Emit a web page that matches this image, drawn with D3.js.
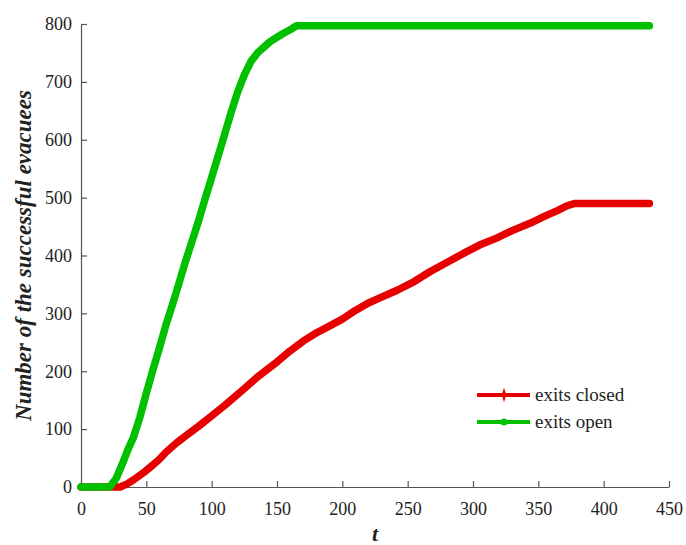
<!DOCTYPE html>
<html>
<head>
<meta charset="utf-8">
<script src="https://cdn.jsdelivr.net/npm/d3@7"></script>
<style>
  body { margin: 0; background: #fff; }
  svg text { font-family: "Liberation Serif", "Times New Roman", "DejaVu Serif", serif !important; fill: #222; }
</style>
</head>
<body>
<div id="chart"></div>
<script>
// time steps and evacuee counts
var closed_t = [0, 30, 35, 40, 48, 55, 60, 65, 73, 80, 90, 100, 110, 124, 135, 150, 160, 170, 180, 190, 200, 210, 220, 230, 242, 255, 267, 280, 293, 305, 318, 330, 344, 355, 365, 372, 378, 435];
var closed_v = [0, 0, 5, 12, 25, 38, 48, 60, 76, 88, 105, 123, 141, 168, 190, 216, 235, 252, 266, 278, 290, 305, 318, 328, 340, 355, 372, 388, 404, 418, 430, 443, 456, 468, 478, 486, 490, 490];

var open_t = [0, 22, 27, 32, 36, 40, 45, 50, 55, 60, 65, 70, 75, 80, 85, 90, 95, 100, 105, 110, 115, 120, 125, 130, 135, 140, 145, 150, 155, 160, 165, 435];
var open_v = [0, 0, 15, 42, 65, 85, 120, 162, 202, 240, 280, 315, 352, 390, 425, 460, 498, 535, 572, 610, 648, 683, 712, 735, 750, 760, 770, 777, 784, 790, 797, 797];

var x_ticks = [0, 50, 100, 150, 200, 250, 300, 350, 400, 450];
var y_ticks = [0, 100, 200, 300, 400, 500, 600, 700, 800];

var series_names  = ['exits closed', 'exits open'];
var series_colors = ['#e60000', '#00c000'];

var W = 686, H = 545;
var margin = { left: 81, right: 17, top: 24, bottom: 58 };
var width  = W - margin.left - margin.right;
var height = H - margin.top - margin.bottom;

var serif = '"Liberation Serif", "Times New Roman", "DejaVu Serif", serif';

var svg = d3.select('#chart').append('svg')
  .attr('width', W)
  .attr('height', H);

var gph = svg.append('g')
  .attr('transform', `translate(${ margin.left }, ${ margin.top })`);

var x = d3.scaleLinear().domain([0, 450]).range([0, width]);
var y = d3.scaleLinear().domain([0, 800]).range([height, 0]);

// axes, ticks pointing inward
var x_axis = gph.append('g')
  .attr('transform', `translate(0, ${ height })`)
  .call(d3.axisBottom(x).tickValues(x_ticks).tickSizeInner(-6).tickSizeOuter(0).tickPadding(15));

var y_axis = gph.append('g')
  .call(d3.axisLeft(y).tickValues(y_ticks).tickSizeInner(-6).tickSizeOuter(0).tickPadding(9));

[x_axis, y_axis].forEach((a) => {
  a.attr('font-family', serif);
  a.select('.domain').attr('stroke', '#555').attr('stroke-width', 1.2);
  a.selectAll('.tick line').attr('stroke', '#555').attr('stroke-width', 1.2);
  a.selectAll('.tick text')
    .attr('font-size', 18)
    .attr('fill', '#222');
});

var sources = [
  closed_t.map((t, i) => ({ t: t, v: closed_v[i] })),
  open_t.map((t, i) => ({ t: t, v: open_v[i] }))
];

var line = d3.line()
  .x((d) => x(d.t))
  .y((d) => y(d.v));

gph.selectAll('path.line')
  .data(sources)
  .enter()
  .append('path')
  .attr('class', 'line')
  .attr('d', line)
  .attr('fill', 'none')
  .attr('stroke', (d, i) => series_colors[i])
  .attr('stroke-width', 7.5)
  .attr('stroke-linejoin', 'round')
  .attr('stroke-linecap', 'round');

// legend
var legend = svg.append('g').attr('transform', 'translate(477, 395)');

series_names.forEach((name, i) => {
  var row = legend.append('g').attr('transform', `translate(0, ${ i * 27 })`);

  row.append('line')
    .attr('x1', 0).attr('x2', 53)
    .attr('y1', 0).attr('y2', 0)
    .attr('stroke', series_colors[i])
    .attr('stroke-width', 4);

  if (i === 0) {
    row.append('path')
      .attr('d', d3.symbol(d3.symbolDiamond, 30)())
      .attr('transform', 'translate(27, 0) scale(0.8, 1.4)')
      .attr('fill', series_colors[i]);
  } else {
    row.append('circle')
      .attr('cx', 27).attr('cy', 0).attr('r', 3.5)
      .attr('fill', series_colors[i]);
  }

  row.append('text')
    .attr('x', 58)
    .attr('y', 6)
    .attr('font-size', 19)
    .text(name);
});

// axis titles
svg.append('text')
  .attr('transform', `translate(31, ${ margin.top + height / 2 }) rotate(-90)`)
  .attr('text-anchor', 'middle')
  .attr('font-size', 23)
  .attr('font-weight', 'bold')
  .attr('font-style', 'italic')
  .text('Number of the successful evacuees');

svg.append('text')
  .attr('x', margin.left + width / 2)
  .attr('y', 541)
  .attr('text-anchor', 'middle')
  .attr('font-size', 22)
  .attr('font-weight', 'bold')
  .attr('font-style', 'italic')
  .text('t');
</script>
</body>
</html>
